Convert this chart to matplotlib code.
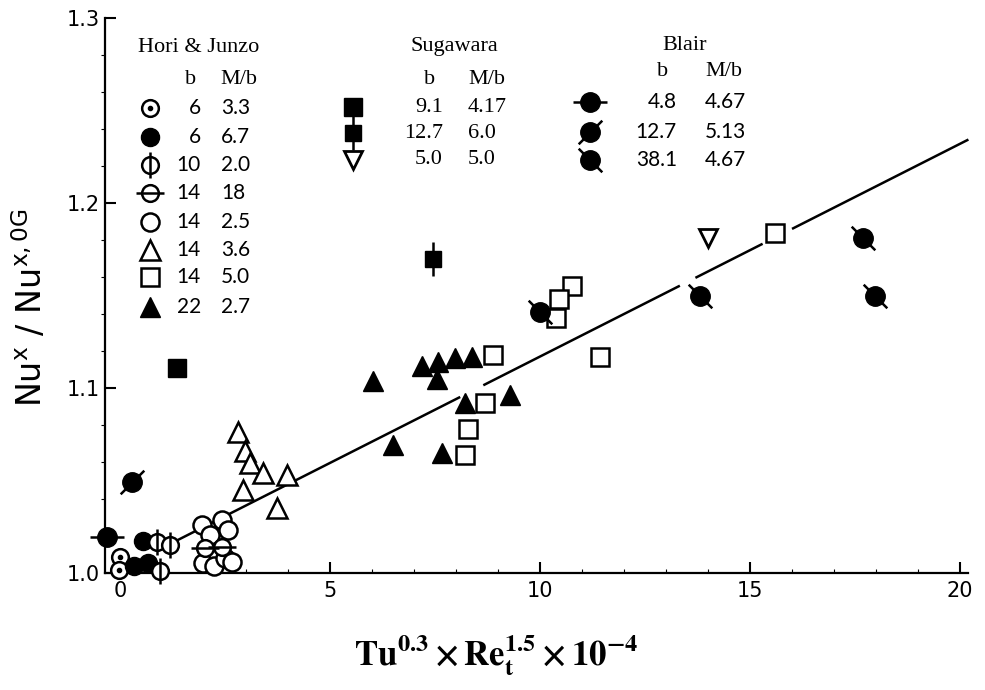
import numpy as np
import matplotlib
matplotlib.use("Agg")
import matplotlib.pyplot as plt
from matplotlib.path import Path

W, H = 985, 690

# ---- Hori & Junzo data ----
hj_dot_x = [0.0, -0.02]
hj_dot_y = [1.0086, 1.0016]
hj_fill_x = [0.55, 0.33, 0.67]
hj_fill_y = [1.0173, 1.0038, 1.0054]
hj_phi_x = [0.88, 1.19, 0.95]
hj_phi_y = [1.0168, 1.0151, 1.0010]
hj_theta_x = [2.02, 2.43]
hj_theta_y = [1.0135, 1.0140]
hj_circ_x = [1.95, 2.14, 2.43, 2.57, 1.98, 2.24, 2.50, 2.67]
hj_circ_y = [1.0260, 1.0205, 1.0286, 1.0230, 1.0054, 1.0038, 1.0081, 1.0060]
hj_tri_x = [2.81, 2.98, 3.10, 3.40, 3.98, 2.93, 3.74]
hj_tri_y = [1.076, 1.066, 1.0595, 1.054, 1.053, 1.045, 1.035]
hj_sq_x = [8.88, 8.69, 8.29, 8.21, 10.76, 10.45, 10.38, 11.43, 15.60]
hj_sq_y = [1.118, 1.092, 1.078, 1.064, 1.155, 1.148, 1.138, 1.117, 1.184]
hj_ftri_x = [6.02, 7.19, 7.57, 7.98, 8.38, 7.55, 8.21, 9.29, 6.50, 7.67]
hj_ftri_y = [1.104, 1.112, 1.114, 1.116, 1.117, 1.105, 1.092, 1.096, 1.069, 1.065]

# ---- Sugawara data ----
sug_sq_x = [1.36]
sug_sq_y = [1.111]
sug_sqbar_x = [7.45]
sug_sqbar_y = [1.170]
sug_inv_x = [14.0]
sug_inv_y = [1.181]

# ---- Blair data ----
bl_h_x = [-0.31]
bl_h_y = [1.0195]
bl_fwd_x = [0.29]
bl_fwd_y = [1.049]
bl_back_x = [10.0, 13.81, 17.69, 17.98]
bl_back_y = [1.141, 1.150, 1.181, 1.150]

# correlation line  y = a + b*x, drawn in pieces
fit_a, fit_b = 1.002, 0.0115
fit_pieces = [(1.3, 8.1), (8.65, 13.33), (13.7, 15.3), (16.0, 20.2)]

# legend tables
hj_kinds = ["dot_circle", "filled_circle", "phi", "theta",
            "open_circle", "open_tri", "open_sq", "filled_tri"]
hj_b = ["6", "6", "10", "14", "14", "14", "14", "22"]
hj_mb = ["3.3", "6.7", "2.0", "18", "2.5", "3.6", "5.0", "2.7"]
sug_kinds = ["filled_sq", "filled_sq_bar", "inv_tri"]
sug_b = ["9.1", "12.7", "5.0"]
sug_mb = ["4.17", "6.0", "5.0"]
bl_kinds = ["blair_h", "blair_fwd", "blair_back"]
bl_b = ["4.8", "12.7", "38.1"]
bl_mb = ["4.67", "5.13", "4.67"]

SERIF = "Liberation Serif"
SANS = "Lato"

slash_fwd = Path([(-1, -1), (1, 1)], [Path.MOVETO, Path.LINETO])
slash_back = Path([(-1, 1), (1, -1)], [Path.MOVETO, Path.LINETO])


def draw_marker(ax, xs, ys, kind, **kw):
    opts = dict(ls="none", clip_on=False, zorder=3)
    opts.update(kw)
    open_kw = dict(mfc="white", mec="black", mew=1.8)
    full_kw = dict(mfc="black", mec="black", mew=1.0)
    if kind == "dot_circle":
        ax.plot(xs, ys, marker="o", ms=12, **open_kw, **opts)
        ax.plot(xs, ys, marker="o", ms=3, **full_kw, **opts)
    elif kind == "filled_circle":
        ax.plot(xs, ys, marker="o", ms=13, **full_kw, **opts)
    elif kind == "phi":
        ax.plot(xs, ys, marker="o", ms=12, **open_kw, **opts)
        ax.plot(xs, ys, marker="|", ms=19, mec="black", mew=1.8, **opts)
    elif kind == "theta":
        ax.plot(xs, ys, marker="o", ms=12, **open_kw, **opts)
        ax.plot(xs, ys, marker="_", ms=20, mec="black", mew=1.8, **opts)
    elif kind == "open_circle":
        ax.plot(xs, ys, marker="o", ms=13, **open_kw, **opts)
    elif kind == "open_tri":
        ax.plot(xs, ys, marker="^", ms=14, **open_kw, **opts)
    elif kind == "open_sq":
        ax.plot(xs, ys, marker="s", ms=13, **open_kw, **opts)
    elif kind == "filled_tri":
        ax.plot(xs, ys, marker="^", ms=14, **full_kw, **opts)
    elif kind == "filled_sq":
        ax.plot(xs, ys, marker="s", ms=13, **full_kw, **opts)
    elif kind == "filled_sq_bar":
        ax.plot(xs, ys, marker="|", ms=24, mec="black", mew=1.8, **opts)
        ax.plot(xs, ys, marker="s", ms=12, **full_kw, **opts)
    elif kind == "inv_tri":
        ax.plot(xs, ys, marker="v", ms=13, mfc="white", mec="black", mew=2.0, **opts)
    elif kind == "blair_h":
        ax.plot(xs, ys, marker="_", ms=24, mec="black", mew=1.8, **opts)
        ax.plot(xs, ys, marker="o", ms=14, **full_kw, **opts)
    elif kind == "blair_fwd":
        ax.plot(xs, ys, marker=slash_fwd, ms=17, mec="black", mew=1.8, **opts)
        ax.plot(xs, ys, marker="o", ms=14, **full_kw, **opts)
    elif kind == "blair_back":
        ax.plot(xs, ys, marker=slash_back, ms=17, mec="black", mew=1.8, **opts)
        ax.plot(xs, ys, marker="o", ms=14, **full_kw, **opts)


def fx(px):
    return px / W


def fy(py):
    return 1 - py / H


fig = plt.figure(figsize=(W / 100, H / 100), dpi=100)
ax = fig.add_axes([fx(105), fy(573), (968 - 105) / W, (573 - 18) / H])
ax.set_xlim(-0.357, 20.19)
ax.set_ylim(1.0, 1.3)

for lo, hi in fit_pieces:
    xs = np.array([lo, hi])
    ax.plot(xs, fit_a + fit_b * xs, color="black", lw=1.8, zorder=1,
            solid_capstyle="butt", clip_on=False)

draw_marker(ax, hj_dot_x, hj_dot_y, "dot_circle")
draw_marker(ax, hj_fill_x, hj_fill_y, "filled_circle")
draw_marker(ax, hj_phi_x, hj_phi_y, "phi")
draw_marker(ax, hj_circ_x, hj_circ_y, "open_circle")
draw_marker(ax, hj_theta_x, hj_theta_y, "theta")
draw_marker(ax, hj_tri_x, hj_tri_y, "open_tri")
draw_marker(ax, hj_ftri_x, hj_ftri_y, "filled_tri")
draw_marker(ax, hj_sq_x, hj_sq_y, "open_sq")
draw_marker(ax, sug_sq_x, sug_sq_y, "filled_sq")
draw_marker(ax, sug_sqbar_x, sug_sqbar_y, "filled_sq_bar")
draw_marker(ax, sug_inv_x, sug_inv_y, "inv_tri")
draw_marker(ax, bl_h_x, bl_h_y, "blair_h")
draw_marker(ax, bl_fwd_x, bl_fwd_y, "blair_fwd")
draw_marker(ax, bl_back_x, bl_back_y, "blair_back")

# axes styling
for side in ("top", "right"):
    ax.spines[side].set_visible(False)
for side in ("left", "bottom"):
    ax.spines[side].set_linewidth(1.6)
ax.set_xticks([0, 5, 10, 15, 20])
ax.set_xticks(np.arange(1, 20, 1), minor=True)
ax.set_yticks([1.0, 1.1, 1.2, 1.3])
ax.set_yticks(np.arange(1.02, 1.3, 0.02), minor=True)
ax.set_yticklabels(["1.0", "1.1", "1.2", "1.3"])
ax.tick_params(which="major", direction="in", length=8, width=1.5,
               labelsize=15, pad=6)
ax.tick_params(which="minor", direction="in", length=3, width=0.8)
ax.tick_params(axis="y", which="minor", direction="out")
ax.tick_params(axis="y", which="major", pad=4)

fig.text(fx(30), fy(308), "Nu$^{\\mathsf{x}}$ / Nu$^{\\mathsf{x,0G}}$",
         rotation=90, fontsize=24, ha="center", va="center",
         math_fontfamily="dejavusans")
fig.text(fx(496), fy(655),
         r"$\mathbf{Tu^{0.3} \times Re_{t}^{1.5} \times 10^{-4}}$",
         fontsize=25, ha="center", va="center", math_fontfamily="stix")


def legend_block(title, title_xy, b_xy, mb_xy, rows_y, marker_x, b_right,
                 mb_left, kinds, bs, mbs, num_font, num_size):
    fig.text(fx(title_xy[0]), fy(title_xy[1]), title, family=SERIF,
             fontsize=16, ha="center", va="center")
    fig.text(fx(b_xy[0]), fy(b_xy[1]), "b", family=SERIF, fontsize=16,
             ha="center", va="center")
    fig.text(fx(mb_xy[0]), fy(mb_xy[1]), "M/b", family=SERIF, fontsize=16,
             ha="center", va="center")
    for ry, kind, b, mb in zip(rows_y, kinds, bs, mbs):
        draw_marker(ax, [fx(marker_x)], [fy(ry)], kind, transform=fig.transFigure)
        fig.text(fx(b_right), fy(ry), b, family=num_font, fontsize=num_size,
                 ha="right", va="center")
        fig.text(fx(mb_left), fy(ry), mb, family=num_font, fontsize=num_size,
                 ha="left", va="center")


legend_block("Hori & Junzo", (199, 47), (191, 80), (239, 80),
             [108, 137, 165, 193, 222, 250, 277, 307], 150, 201, 221,
             hj_kinds, hj_b, hj_mb, SANS, 15)
legend_block("Sugawara", (454, 46), (430, 80), (487, 80),
             [107, 133, 160], 353, 443, 468,
             sug_kinds, sug_b, sug_mb, SERIF, 16)
legend_block("Blair", (685, 46), (663, 72), (724, 72),
             [102, 132, 160], 590, 677, 705,
             bl_kinds, bl_b, bl_mb, SANS, 15)

fig.savefig("out.png", dpi=100, facecolor="white")
